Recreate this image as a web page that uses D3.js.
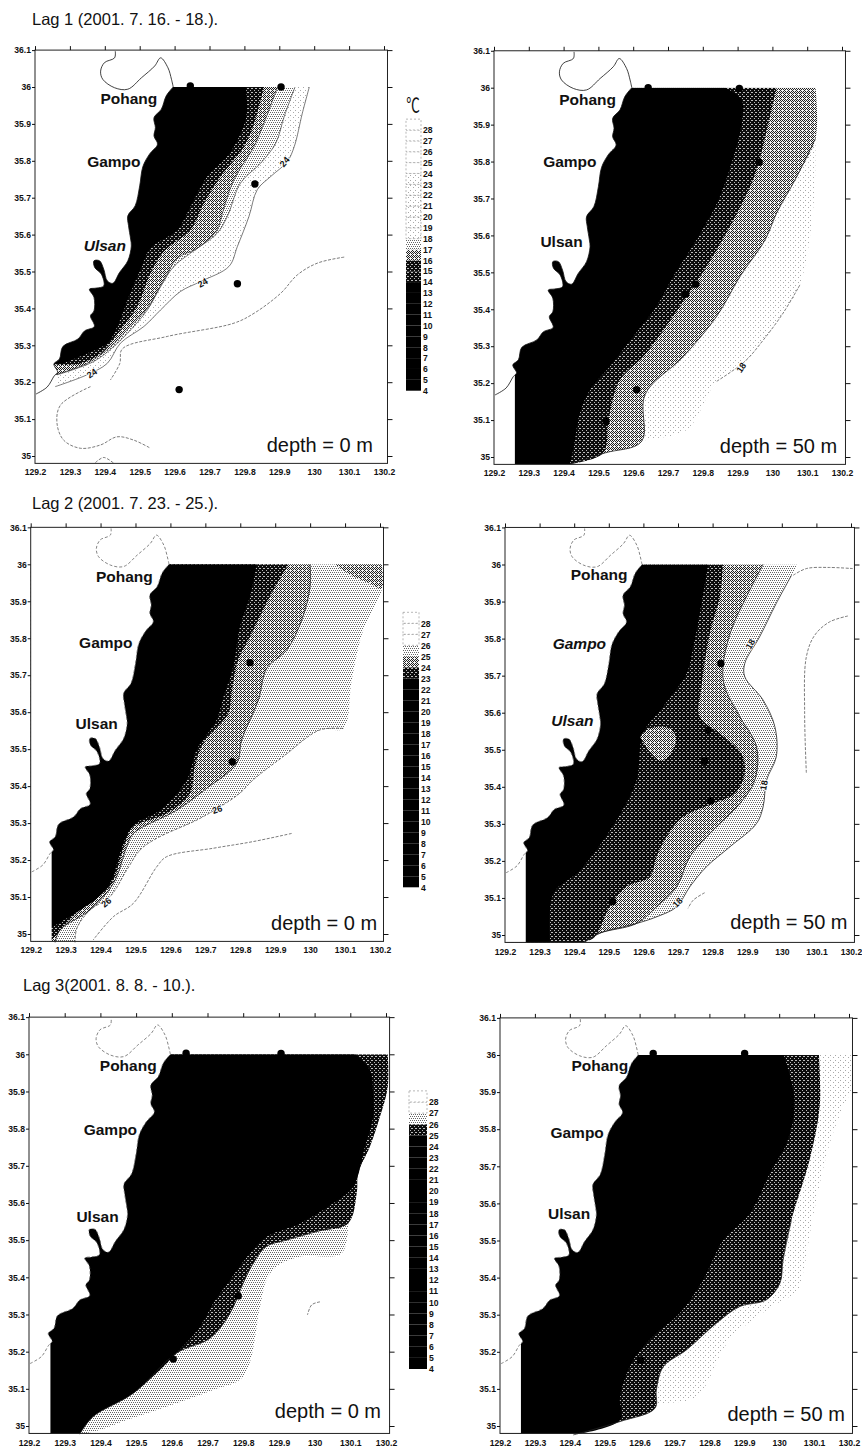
<!DOCTYPE html>
<html>
<head>
<meta charset="utf-8">
<script src="https://cdn.jsdelivr.net/npm/d3@7"></script>
<style>
	html, body { margin: 0; padding: 0; background: #fff; }
	text { font-family: "Liberation Sans", Arial, sans-serif; fill: #111; }
	.tick text { font-weight: bold; font-size: 8.6px; }
	.place { font-weight: bold; font-size: 15.5px; text-anchor: middle; }
	.clabel { font-weight: bold; font-size: 9px; text-anchor: middle; stroke: #fff; stroke-width: 1.5px; paint-order: stroke; }
</style>
</head>
<body>
<svg id="chart" width="862" height="1454"></svg>
<script>
// axis ticks
var lonTicks = [129.2, 129.3, 129.4, 129.5, 129.6, 129.7, 129.8, 129.9, 130, 130.1, 130.2]
var latTicks = [35, 35.1, 35.2, 35.3, 35.4, 35.5, 35.6, 35.7, 35.8, 35.9, 36, 36.1]
var barLevels = [4, 5, 6, 7, 8, 9, 10, 11, 12, 13, 14, 15, 16, 17, 18, 19, 20, 21, 22, 23, 24, 25, 26, 27, 28]

// coast (lon, lat)
var coastSouth = [[129.203,35.168],[129.235,35.187],[129.255,35.217],[129.26,35.222]]
var coastEast = [[129.26,35.222],[129.265,35.228],[129.254,35.249],[129.27,35.263],[129.28,35.297],[129.323,35.317],[129.342,35.339],[129.37,35.351],[129.359,35.38],[129.369,35.393],[129.369,35.43],[129.356,35.452],[129.375,35.455],[129.397,35.461],[129.39,35.493],[129.371,35.511],[129.369,35.529],[129.385,35.529],[129.397,35.506],[129.407,35.475],[129.423,35.468],[129.442,35.497],[129.466,35.529],[129.476,35.569],[129.474,35.588],[129.468,35.624],[129.466,35.651],[129.487,35.678],[129.5,35.732],[129.509,35.784],[129.528,35.818],[129.551,35.845],[129.541,35.867],[129.545,35.89],[129.541,35.917],[129.562,35.94],[129.576,35.976],[129.596,36]]
var coastBay = [[129.596,36],[129.591,36.021],[129.581,36.052],[129.56,36.079],[129.543,36.057],[129.505,36.025],[129.466,35.994],[129.428,35.998],[129.394,36.021],[129.388,36.043],[129.399,36.066],[129.428,36.079],[129.43,36.097]]

// Lag 1, 0 m
var a0Black = [[129.804,36],[129.807,35.929],[129.785,35.866],[129.751,35.812],[129.694,35.758],[129.646,35.676],[129.608,35.613],[129.531,35.563],[129.502,35.505],[129.469,35.432],[129.44,35.36],[129.407,35.306],[129.34,35.274],[129.278,35.251]]
var a0Dark = [[129.856,36],[129.828,35.902],[129.799,35.839],[129.732,35.758],[129.684,35.685],[129.646,35.613],[129.569,35.554],[129.531,35.495],[129.493,35.405],[129.445,35.342],[129.388,35.278],[129.33,35.251],[129.254,35.247]]
var a0Mid = [[129.895,36],[129.856,35.902],[129.828,35.839],[129.77,35.749],[129.737,35.658],[129.722,35.613],[129.665,35.563],[129.608,35.536],[129.569,35.477],[129.522,35.401],[129.464,35.342],[129.407,35.288],[129.349,35.251],[129.258,35.22]]
var a0Light = [[129.945,36],[129.914,35.92],[129.89,35.848],[129.847,35.794],[129.789,35.74],[129.751,35.649],[129.722,35.604],[129.646,35.55],[129.598,35.514],[129.56,35.459],[129.522,35.396],[129.474,35.342],[129.426,35.297],[129.368,35.256],[129.263,35.22]]
var a0Sparse = [[129.986,36],[129.966,35.929],[129.943,35.839],[129.923,35.798],[129.876,35.758],[129.837,35.722],[129.813,35.649],[129.78,35.568],[129.756,35.514],[129.675,35.473],[129.617,35.446],[129.56,35.396],[129.512,35.351],[129.445,35.306],[129.407,35.251],[129.349,35.22],[129.258,35.188]]
var a0LineA = [[130.086,35.539],[130.01,35.523],[129.952,35.491],[129.904,35.441],[129.828,35.387],[129.77,35.36],[129.579,35.324],[129.45,35.29],[129.443,35.251],[129.416,35.206]]
var a0LineB = [[129.359,35.188],[129.273,35.138],[129.263,35.089],[129.282,35.043],[129.33,35.021],[129.388,35.03],[129.435,35.052],[129.483,35.043],[129.531,35.021]]
var a0LineC = [[129.373,34.982],[129.397,34.996],[129.426,34.98]]
var a0Stations = [[129.905,36],[129.645,36.003],[129.83,35.737],[129.78,35.467],[129.613,35.18]]

// Lag 1, 50 m
var a50Black = [[129.864,36],[129.912,35.967],[129.912,35.904],[129.888,35.813],[129.849,35.705],[129.782,35.588],[129.715,35.489],[129.667,35.408],[129.6,35.326],[129.533,35.245],[129.476,35.182],[129.447,35.119],[129.428,35.02],[129.418,34.981]]
var a50Dark = [[130.012,36],[129.993,35.922],[129.96,35.795],[129.936,35.732],[129.878,35.624],[129.811,35.516],[129.754,35.435],[129.687,35.344],[129.629,35.272],[129.562,35.209],[129.529,35.101],[129.514,35.011],[129.418,34.981]]
var a50Mid = [[130.124,36],[130.124,35.863],[130.07,35.759],[130.012,35.66],[129.979,35.588],[129.907,35.489],[129.84,35.381],[129.744,35.272],[129.634,35.169],[129.624,35.042],[129.519,35.011],[129.418,34.981]]
var a50Sparse = [[130.124,36],[130.124,35.863],[130.118,35.678],[130.079,35.466],[130.031,35.39],[129.974,35.317],[129.921,35.259],[129.84,35.205],[129.754,35.074],[129.639,35.047],[129.624,35.042],[129.519,35.011],[129.418,34.981]]
var a50Stations = [[129.643,36],[129.905,35.998],[129.962,35.798],[129.78,35.468],[129.751,35.441],[129.61,35.182],[129.522,35.096]]

// Lag 2, 0 m
var b0Black = [[129.847,36],[129.828,35.913],[129.799,35.831],[129.78,35.723],[129.752,35.642],[129.732,35.579],[129.675,35.498],[129.647,35.417],[129.57,35.335],[129.494,35.295],[129.465,35.245],[129.427,35.137],[129.389,35.096],[129.327,35.056],[129.255,35.015]]
var b0Dark = [[129.938,36],[129.885,35.913],[129.823,35.795],[129.794,35.741],[129.775,35.651],[129.766,35.597],[129.694,35.516],[129.67,35.453],[129.656,35.381],[129.589,35.326],[129.494,35.29],[129.47,35.245],[129.432,35.137],[129.389,35.096],[129.341,35.065],[129.26,34.984]]
var b0Mid = [[130,36],[130,35.94],[129.976,35.849],[129.933,35.768],[129.876,35.719],[129.852,35.633],[129.804,35.525],[129.79,35.462],[129.704,35.394],[129.618,35.335],[129.494,35.272],[129.475,35.236],[129.437,35.137],[129.37,35.065],[129.284,35.011],[129.27,34.977]]
var b0Light = [[130.205,36],[130.205,35.931],[130.152,35.822],[130.119,35.687],[130.095,35.556],[130.028,35.552],[129.923,35.48],[129.837,35.417],[129.799,35.381],[129.742,35.344],[129.675,35.308],[129.561,35.259],[129.513,35.227],[129.475,35.173],[129.427,35.101],[129.37,35.065],[129.332,35.015],[129.327,34.977]]
var b0Wedge = [[130.071,36],[130.124,35.967],[130.171,35.949],[130.205,35.935],[130.205,36]]
var b0LineA = [[129.947,35.272],[129.837,35.25],[129.723,35.232],[129.589,35.209],[129.561,35.182],[129.494,35.083],[129.437,35.047],[129.379,34.984]]
var b0Stations = [[129.828,35.734],[129.777,35.466]]

// Lag 2, 50 m
var b50Black = [[129.787,36],[129.763,35.868],[129.744,35.778],[129.725,35.706],[129.657,35.616],[129.599,35.544],[129.58,35.418],[129.522,35.31],[129.417,35.175],[129.34,35.112],[129.33,34.978]]
var b50Dark = [[129.83,36],[129.821,35.913],[129.792,35.814],[129.768,35.67],[129.763,35.589],[129.821,35.544],[129.883,35.49],[129.893,35.436],[129.864,35.382],[129.802,35.355],[129.715,35.319],[129.667,35.265],[129.638,35.211],[129.619,35.157],[129.551,35.13],[129.503,35.076],[129.46,34.995],[129.431,34.982],[129.33,34.978]]
var b50Mid = [[129.946,36],[129.898,35.913],[129.854,35.823],[129.83,35.724],[129.835,35.67],[129.879,35.589],[129.927,35.508],[129.922,35.418],[129.879,35.355],[129.792,35.274],[129.734,35.211],[129.696,35.13],[129.638,35.076],[129.58,35.031],[129.474,35.005],[129.431,34.982]]
var b50Light = [[130.047,36],[130.028,35.971],[129.984,35.895],[129.936,35.805],[129.893,35.733],[129.893,35.697],[129.946,35.634],[129.98,35.562],[129.984,35.481],[129.956,35.418],[129.946,35.346],[129.927,35.301],[129.85,35.238],[129.782,35.184],[129.734,35.13],[129.696,35.076],[129.638,35.049],[129.58,35.031],[129.474,35.005],[129.431,34.982]]
var b50Blob = [[129.59,35.535],[129.619,35.558],[129.676,35.558],[129.694,35.531],[129.676,35.486],[129.648,35.47],[129.614,35.499]]
var b50LineA = [[130.033,35.971],[130.071,35.989],[130.138,35.992],[130.205,35.989]]
var b50LineB = [[130.191,35.861],[130.138,35.845],[130.095,35.809],[130.071,35.751],[130.066,35.598],[130.071,35.436]]
var b50LineC = [[129.777,35.114],[129.744,35.094],[129.729,35.072]]
var b50Stations = [[129.824,35.733],[129.777,35.469],[129.795,35.362],[129.787,35.553],[129.511,35.09]]

// Lag 3, 0 m
var c0Black = [[130.113,36],[130.155,35.958],[130.164,35.895],[130.164,35.832],[130.141,35.752],[130.108,35.644],[130.052,35.599],[129.959,35.545],[129.865,35.509],[129.819,35.465],[129.763,35.393],[129.716,35.33],[129.679,35.267],[129.613,35.196],[129.492,35.088],[129.379,35.025],[129.342,34.978]]
var c0Dark = [[130.205,36],[130.205,35.913],[130.183,35.832],[130.155,35.752],[130.122,35.68],[130.118,35.626],[130.094,35.545],[130.006,35.523],[129.921,35.5],[129.865,35.483],[129.823,35.429],[129.8,35.384],[129.763,35.303],[129.707,35.236],[129.613,35.196],[129.492,35.088],[129.379,35.025],[129.342,34.978]]
var c0Light = [[130.094,35.55],[130.076,35.465],[129.959,35.456],[129.893,35.429],[129.865,35.393],[129.847,35.321],[129.8,35.133],[129.716,35.097],[129.585,35.052],[129.473,35.016],[129.398,34.989],[129.342,34.978]]
var c0LineA = [[130.015,35.334],[129.992,35.326],[129.98,35.299]]
var c0Stations = [[129.64,36.003],[129.906,36.002],[129.604,35.18],[129.786,35.35]]

// Lag 3, 50 m
var c50Black = [[130.013,36],[130.044,35.879],[130.025,35.771],[129.973,35.681],[129.916,35.573],[129.839,35.501],[129.782,35.394],[129.715,35.304],[129.648,35.25],[129.582,35.178],[129.544,35.079],[129.544,35.016],[129.41,34.976]]
var c50Dark = [[130.114,36],[130.116,35.861],[130.087,35.717],[130.035,35.555],[130.011,35.447],[130.002,35.385],[129.963,35.34],[129.887,35.322],[129.82,35.277],[129.734,35.205],[129.668,35.16],[129.648,35.097],[129.644,35.048],[129.544,35.012],[129.41,34.976]]
var c50Sparse = [[130.205,36],[130.205,35.901],[130.188,35.87],[130.145,35.762],[130.097,35.564],[130.068,35.411],[130.049,35.358],[130.011,35.34],[129.858,35.232],[129.763,35.079],[129.648,35.057],[129.544,35.012],[129.41,34.976]]
var c50Stations = [[129.639,36.004],[129.901,36.004],[129.603,35.178]]

// colour bar shade per level, bottom (4) to top (28)
var bar1Shades = ["black","black","black","black","black","black","black","black","black","black","dark","dark","mid","light","sparse","sparse","sparse","sparse","sparse","sparse","none","none","none","none","none"]
var bar2Shades = ["black","black","black","black","black","black","black","black","black","black","black","black","black","black","black","black","black","black","black","dark","mid","light","none","none","none"]
var bar3Shades = ["black","black","black","black","black","black","black","black","black","black","black","black","black","black","black","black","black","black","black","black","black","dark","light","none","none"]

var panels = [
	{ x: [35, 384], y: [456, 87], depth: "depth = 0 m", depthLon: 130.168, depthUp: 4, bands: [
			{ pts: a0Sparse, shade: "sparse", line: "thin" }, { pts: a0Light, shade: "light", line: "thin" },
			{ pts: a0Mid, shade: "mid", line: "thin" }, { pts: a0Dark, shade: "dark" }, { pts: a0Black, shade: "black" }],
		lines: [a0LineA, a0LineB, a0LineC], stations: a0Stations, coast: "solid",
		places: [["Pohang", 129.469, 35.968], ["Gampo", 129.426, 35.796], ["Ulsan", 129.4, 35.57, "italic"]],
		labels: [["24", 129.922, 35.8, -50], ["24", 129.685, 35.47, -30], ["24", 129.368, 35.225, -35]] },
	{ x: [494, 842], y: [457, 87.7], depth: "depth = 50 m", depthLon: 130.186, depthUp: 4, bands: [
			{ pts: a50Sparse, shade: "sparse" }, { pts: a50Mid, shade: "mid", line: "solid", from: 1 },
			{ pts: a50Dark, shade: "dark" }, { pts: a50Black, shade: "black" }],
		lines: [a50Sparse.slice(3, 8)], stations: a50Stations, coast: "solid",
		places: [["Pohang", 129.469, 35.968], ["Gampo", 129.418, 35.8], ["Ulsan", 129.394, 35.583]],
		labels: [["18", 129.918, 35.245, -55]] },
	{ x: [30.7, 380], y: [934, 564.3], depth: "depth = 0 m", depthLon: 130.192, depthUp: 4, bands: [
			{ pts: b0Light, shade: "light" }, { pts: b0Mid, shade: "mid", line: "solid" },
			{ pts: b0Dark, shade: "dark" }, { pts: b0Black, shade: "black" }],
		patches: [{ pts: b0Wedge, shade: "mid" }],
		lines: [b0Light.slice(4), b0LineA], stations: b0Stations, coast: "dash",
		places: [["Pohang", 129.468, 35.967], ["Gampo", 129.415, 35.786], ["Ulsan", 129.389, 35.567]],
		labels: [["26", 129.737, 35.337, -20], ["26", 129.422, 35.087, -40]] },
	{ x: [505, 851], y: [935, 564.5], depth: "depth = 50 m", depthLon: 130.19, depthUp: 6, bands: [
			{ pts: b50Light, shade: "light", line: "solid", from: 1 }, { pts: b50Mid, shade: "mid", line: "solid" },
			{ pts: b50Dark, shade: "dark" }, { pts: b50Black, shade: "black" }],
		patches: [{ pts: b50Blob, shade: "mid" }],
		lines: [b50LineA, b50LineB, b50LineC], stations: b50Stations, coast: "dash",
		places: [["Pohang", 129.472, 35.971], ["Gampo", 129.415, 35.785, "italic"], ["Ulsan", 129.395, 35.577, "italic"]],
		labels: [["18", 129.917, 35.789, -60], ["18", 129.957, 35.411, -80], ["18", 129.705, 35.09, -45]] },
	{ x: [29, 386], y: [1426, 1054.3], depth: "depth = 0 m", depthLon: 130.186, depthUp: 8, bands: [
			{ pts: c0Light, shade: "light" }, { pts: c0Dark, shade: "dark", line: "solid", from: 6 }, { pts: c0Black, shade: "black" }],
		lines: [c0LineA], stations: c0Stations, coast: "dash",
		places: [["Pohang", 129.478, 35.969], ["Gampo", 129.428, 35.796], ["Ulsan", 129.392, 35.561]],
		labels: [] },
	{ x: [500, 849], y: [1426, 1055], depth: "depth = 50 m", depthLon: 130.188, depthUp: 5, bands: [
			{ pts: c50Sparse, shade: "sparse" }, { pts: c50Dark, shade: "dark", line: "solid", from: 3 }, { pts: c50Black, shade: "black" }],
		lines: [], stations: c50Stations, coast: "dash",
		places: [["Pohang", 129.486, 35.971], ["Gampo", 129.421, 35.789], ["Ulsan", 129.398, 35.571]],
		labels: [] }
]

var titles = [
	{ text: "Lag 1 (2001. 7. 16. - 18.).", x: 32, y: 25 },
	{ text: "Lag 2 (2001. 7. 23. - 25.).", x: 32, y: 509 },
	{ text: "Lag 3(2001. 8. 8. - 10.).", x: 23, y: 991 }
]

var bars = [
	{ shades: bar1Shades, x: 406, w: 15, y4: 390.7, y28: 130 },
	{ shades: bar2Shades, x: 403, w: 16, y4: 887.3, y28: 623.3 },
	{ shades: bar3Shades, x: 409, w: 18, y4: 1369, y28: 1102 }
]

var svg = d3.select("#chart")
var defs = svg.append("defs")

// halftone screens, the scan shows them as small dots
function screen(id, size, bg, fg, cells) {
	var p = defs.append("pattern").attr("id", id)
		.attr("width", size).attr("height", size)
		.attr("patternUnits", "userSpaceOnUse")
	p.append("rect").attr("width", size).attr("height", size).attr("fill", bg)
	p.selectAll("rect.dot").data(cells).enter().append("rect")
		.attr("class", "dot")
		.attr("x", d => d[0]).attr("y", d => d[1])
		.attr("width", 1).attr("height", 1)
		.attr("fill", fg)
}
screen("dark", 4, "#0c0c0c", "#bbb", [[0, 0], [2, 2], [3, 0]])
screen("mid", 4, "#f4f4f4", "#222", [[0, 0], [2, 0], [1, 1], [3, 1], [0, 2], [3, 3], [1, 3]])
screen("light", 4, "#fff", "#666", [[0, 0], [2, 0], [1, 2], [3, 2]])
screen("sparse", 5, "#fff", "#aaa", [[0, 0], [3, 2]])

function fillOf(shade) {
	if (shade == "black") return "#000"
	if (shade == "none") return "#fff"
	return "url(#" + shade + ")"
}

panels.forEach(function(p, i) {
	var x = d3.scaleLinear().domain([129.2, 130.2]).range(p.x)
	var y = d3.scaleLinear().domain([35, 36]).range(p.y)
	var left = x(129.2), right = x(130.21), top = y(36.1), bottom = y(34.98)

	var g = svg.append("g")

	defs.append("clipPath").attr("id", "clip" + i).append("rect")
		.attr("x", left).attr("y", y(36))
		.attr("width", right - left).attr("height", bottom - y(36))

	var line = d3.line().x(d => x(d[0])).y(d => y(d[1])).curve(d3.curveCatmullRom)

	// a band is everything west of its boundary, the land goes on top afterwards
	function bandPath(pts) {
		var last = pts[pts.length - 1]
		return line(pts) + "L" + left + "," + y(last[1]) + "L" + left + "," + y(36) + "Z"
	}

	var map = g.append("g").attr("clip-path", "url(#clip" + i + ")")

	map.selectAll("path.band").data(p.bands).enter().append("path")
		.attr("class", "band")
		.attr("d", d => bandPath(d.pts))
		.attr("fill", d => fillOf(d.shade))

	map.selectAll("path.patch").data(p.patches || []).enter().append("path")
		.attr("class", "patch")
		.attr("d", d => line(d.pts) + "Z")
		.attr("fill", d => fillOf(d.shade))

	// land sits outside the clip, otherwise the clip edge leaves a hairline along 36
	var landPath = "M" + left + "," + bottom + "L" + x(129.26) + "," + bottom
		+ "L" + line(coastEast).slice(1)
		+ "L" + x(129.596) + "," + y(36.02) + "L" + left + "," + y(36.02) + "Z"
	g.append("path").attr("d", landPath).attr("fill", "#fff")

	// boundary lines on the bands
	p.bands.filter(d => d.line).forEach(function(d) {
		g.append("path").attr("d", line(d.pts.slice(d.from || 0)))
			.attr("fill", "none").attr("stroke", "#222")
			.attr("stroke-width", d.line == "thin" ? 0.6 : 0.8)
	})

	g.selectAll("path.contour").data(p.lines).enter().append("path")
		.attr("class", "contour")
		.attr("d", line)
		.attr("fill", "none").attr("stroke", "#444")
		.attr("stroke-width", 0.7)
		.attr("stroke-dasharray", "3,1.5")

	// coast
	var dash = p.coast == "dash" ? "3,2" : null
	var coastColor = p.coast == "dash" ? "#666" : "#111"
	;[coastSouth, coastEast, coastBay].forEach(function(c) {
		g.append("path").attr("d", line(c))
			.attr("fill", "none").attr("stroke", coastColor)
			.attr("stroke-width", 0.8)
			.attr("stroke-dasharray", dash)
	})

	g.selectAll("circle").data(p.stations).enter().append("circle")
		.attr("cx", d => x(d[0])).attr("cy", d => y(d[1]))
		.attr("r", 3.7).attr("fill", "#000")

	g.selectAll("text.place").data(p.places).enter().append("text")
		.attr("class", "place")
		.attr("x", d => x(d[1])).attr("y", d => y(d[2]) + 5)
		.style("font-style", d => d[3] || "normal")
		.text(d => d[0])

	g.selectAll("text.clabel").data(p.labels).enter().append("text")
		.attr("class", "clabel")
		.attr("transform", d => `translate(${x(d[1])},${y(d[2]) + 3}) rotate(${d[3]})`)
		.text(d => d[0])

	g.append("text")
		.attr("x", x(p.depthLon)).attr("y", y(35) - p.depthUp)
		.attr("text-anchor", "end")
		.style("font-size", "20px")
		.text(p.depth)

	// frame and axes
	g.append("rect").attr("x", left).attr("y", top)
		.attr("width", right - left).attr("height", bottom - top)
		.attr("fill", "none").attr("stroke", "#222").attr("stroke-width", 1)

	g.append("g")
		.attr("transform", `translate(0,${bottom})`)
		.call(d3.axisBottom(x).tickValues(lonTicks).tickSize(0).tickPadding(6).tickFormat(d3.format("")))
	g.append("g")
		.attr("transform", `translate(0,${top})`)
		.call(d3.axisTop(x).tickValues(lonTicks).tickSize(4).tickFormat(""))
	g.append("g")
		.attr("transform", `translate(${left},0)`)
		.call(d3.axisLeft(y).tickValues(latTicks).tickSize(3).tickPadding(1).tickFormat(d3.format("")))
	g.append("g")
		.attr("transform", `translate(${right},0)`)
		.call(d3.axisRight(y).tickValues(latTicks).tickSize(5).tickFormat(""))
	g.selectAll(".domain").remove()
	g.selectAll(".tick line").attr("stroke", "#111")
})

svg.selectAll("text.title").data(titles).enter().append("text")
	.attr("class", "title")
	.attr("x", d => d.x).attr("y", d => d.y)
	.style("font-size", "16.5px")
	.text(d => d.text)

bars.forEach(function(b) {
	var z = d3.scaleLinear().domain([4, 28]).range([b.y4, b.y28])
	var g = svg.append("g")
	g.selectAll("rect").data(barLevels).enter().append("rect")
		.attr("x", b.x).attr("width", b.w)
		.attr("y", d => z(d + 1))
		.attr("height", d => z(d) - z(d + 1))
		.attr("fill", (d, i) => fillOf(b.shades[i]))
		.attr("stroke", (d, i) => b.shades[i] == "none" || b.shades[i] == "sparse" ? "#888" : "none")
		.attr("stroke-width", 0.6)
		.attr("stroke-dasharray", "2,2")
	g.append("g")
		.attr("transform", `translate(${b.x + b.w},0)`)
		.call(d3.axisRight(z).tickValues(barLevels).tickSize(0).tickPadding(2).tickFormat(d3.format("")))
		.call(a => a.select(".domain").remove())
})

svg.append("text")
	.attr("transform", "translate(413,113) scale(0.85,1.3)")
	.attr("text-anchor", "middle")
	.style("font-family", "'Noto Sans CJK KR'")
	.style("font-size", "16px")
	.text("℃")
</script>
</body>
</html>
